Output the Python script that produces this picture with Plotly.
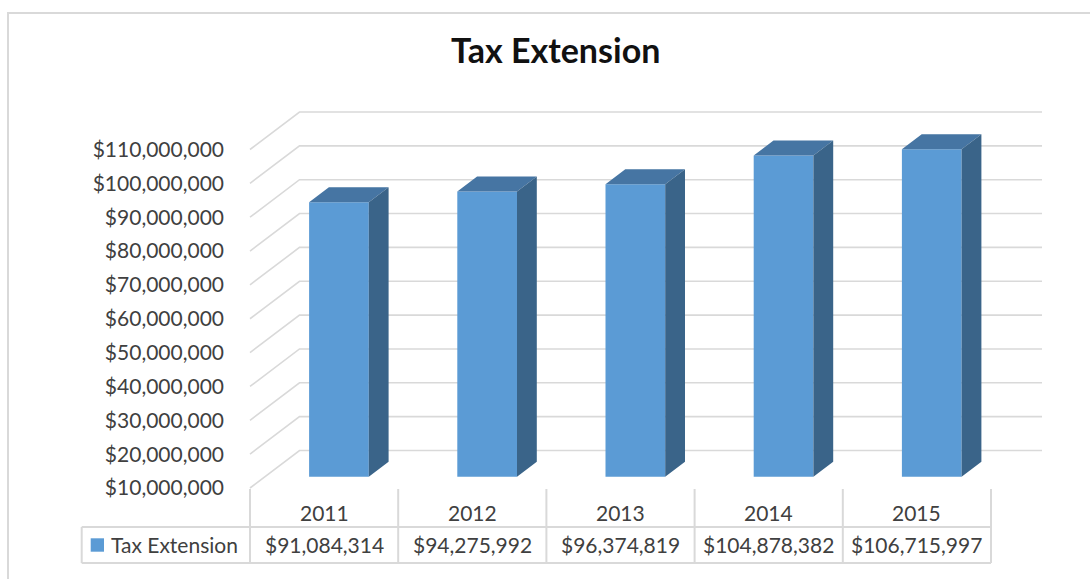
import plotly.graph_objects as go

# ---------------- data ----------------
years = ["2011", "2012", "2013", "2014", "2015"]
tax_extension = [91084314, 94275992, 96374819, 104878382, 106715997]
axis_ticks = [10000000, 20000000, 30000000, 40000000, 50000000, 60000000,
              70000000, 80000000, 90000000, 100000000, 110000000]
series_name = "Tax Extension"
chart_title = "Tax Extension"

# ---------------- geometry / style ----------------
W, H = 1090, 579
COL_W = 148.2          # px width of a category column
TABLE_X0 = 250         # px left edge of first category column (front of plot)
FLOOR_Y = 488          # px of the axis minimum on the front plane
PX_PER_STEP = 33.85    # px per tick step
VPP = (axis_ticks[1] - axis_ticks[0]) / PX_PER_STEP
DX_PX, DY_PX = 49.5, 37.5  # oblique depth offset (full depth)
DXc = DX_PX / COL_W
DYv = DY_PX * VPP
D_FRONT, D_BACK = 0.30, 0.70
BAR_W = 59.7 / COL_W
BASE = axis_ticks[0]
WALL_RIGHT_PX = 1042

FRONT_C = "#5B9BD5"
TOP_C = "#4675A3"
SIDE_C = "#3A6489"
GRID_C = "#D9D9D9"
TEXT_C = "#404040"
FONT = "Lato"
FS = 21


def xd(px):
    return (px - TABLE_X0) / COL_W - 0.5


def yd(py):
    return BASE + (FLOOR_Y - py) * VPP


def xp(px):
    return px / W


def yp(py):
    return 1 - py / H


fig = go.Figure()
shapes = []

# ---------- gridlines (side wall diagonal + back wall), below the bars ----------
for v in axis_ticks:
    shapes.append(dict(type="path", xref="x", yref="y", layer="below",
                       path=f"M {xd(TABLE_X0)},{v} L {xd(TABLE_X0) + DXc},{v + DYv} "
                            f"L {xd(WALL_RIGHT_PX)},{v + DYv}",
                       line=dict(color=GRID_C, width=1.6)))

# ---------- bars: front faces ----------
idx = list(range(len(years)))
fig.add_trace(go.Bar(
    x=[i + D_FRONT * DXc for i in idx],
    y=[v - BASE for v in tax_extension],
    base=BASE + D_FRONT * DYv,
    width=BAR_W,
    marker=dict(color=FRONT_C, line=dict(width=0)),
    name=series_name, showlegend=False, hoverinfo="skip"))

# ---------- bars: top and side faces ----------
dd = D_BACK - D_FRONT
tx, ty, sx, sy = [], [], [], []
for i, v in zip(idx, tax_extension):
    xl = i + D_FRONT * DXc - BAR_W / 2
    xr = xl + BAR_W
    vt = v + D_FRONT * DYv
    vb = BASE + D_FRONT * DYv
    tx += [xl, xr, xr + dd * DXc, xl + dd * DXc, xl, None]
    ty += [vt, vt, vt + dd * DYv, vt + dd * DYv, vt, None]
    sx += [xr, xr, xr + dd * DXc, xr + dd * DXc, xr, None]
    sy += [vb, vt, vt + dd * DYv, vb + dd * DYv, vb, None]
fig.add_trace(go.Scatter(x=tx, y=ty, mode="lines", fill="toself",
                         fillcolor=TOP_C, line=dict(width=0, color=TOP_C),
                         hoverinfo="skip", showlegend=False))
fig.add_trace(go.Scatter(x=sx, y=sy, mode="lines", fill="toself",
                         fillcolor=SIDE_C, line=dict(width=0, color=SIDE_C),
                         hoverinfo="skip", showlegend=False))

# ---------- data table ----------
tbl_left, tbl_head_top, tbl_mid, tbl_bot = 81.7, 489, 527, 563
line_style = dict(color=GRID_C, width=2)
for k in range(len(years) + 1):
    x = k - 0.5
    shapes.append(dict(type="line", xref="x", yref="paper",
                       x0=x, x1=x, y0=yp(tbl_head_top), y1=yp(tbl_bot),
                       line=line_style))
for yy in (tbl_mid, tbl_bot):
    shapes.append(dict(type="line", xref="paper", yref="paper",
                       x0=xp(tbl_left), x1=xp(TABLE_X0 + COL_W * len(years)),
                       y0=yp(yy), y1=yp(yy), line=line_style))
shapes.append(dict(type="line", xref="paper", yref="paper",
                   x0=xp(tbl_left), x1=xp(tbl_left),
                   y0=yp(tbl_mid), y1=yp(tbl_bot), line=line_style))
# legend key
shapes.append(dict(type="rect", xref="paper", yref="paper",
                   x0=xp(90.7), x1=xp(104), y0=yp(551.7), y1=yp(538.3),
                   fillcolor=FRONT_C, line=dict(width=0)))
# chart area border
shapes.append(dict(type="rect", xref="paper", yref="paper",
                   x0=xp(8), x1=xp(W + 10), y0=yp(H + 10), y1=yp(13),
                   line=dict(color=GRID_C, width=2), layer="below"))

annotations = []
tfont = dict(family=FONT, size=FS, color=TEXT_C)
for i, (yr, v) in enumerate(zip(years, tax_extension)):
    annotations.append(dict(x=i, y=yp(512), xref="x", yref="paper", text=yr,
                            yanchor="middle", showarrow=False, font=tfont))
    annotations.append(dict(x=i, y=yp(544), xref="x", yref="paper",
                            text=f"${v:,}", yanchor="middle", showarrow=False, font=tfont))
annotations.append(dict(x=xp(109), y=yp(544), xref="paper", yref="paper", text=series_name,
                        xanchor="left", yanchor="middle", showarrow=False, font=tfont))
annotations.append(dict(x=xp(555.5), y=yp(49), xref="paper", yref="paper",
                        text=f"<b>{chart_title}</b>", yanchor="middle", showarrow=False,
                        font=dict(family=FONT, size=34, color="#111111")))

fig.update_layout(
    width=W, height=H, margin=dict(l=0, r=0, t=0, b=0),
    paper_bgcolor="white", plot_bgcolor="white",
    showlegend=False, shapes=shapes, annotations=annotations,
    xaxis=dict(range=[xd(0), xd(W)], visible=False, domain=[0, 1], fixedrange=True),
    yaxis=dict(range=[yd(H), yd(0)], domain=[0, 1], anchor="free", position=xp(224),
               tickvals=axis_ticks, ticktext=[f"${v:,}" for v in axis_ticks],
               showgrid=False, zeroline=False, showline=False, ticks="",
               tickfont=tfont, fixedrange=True),
)

fig.write_html("out.html", post_script="document.body.style.margin='0';",
               config={"displayModeBar": False})
